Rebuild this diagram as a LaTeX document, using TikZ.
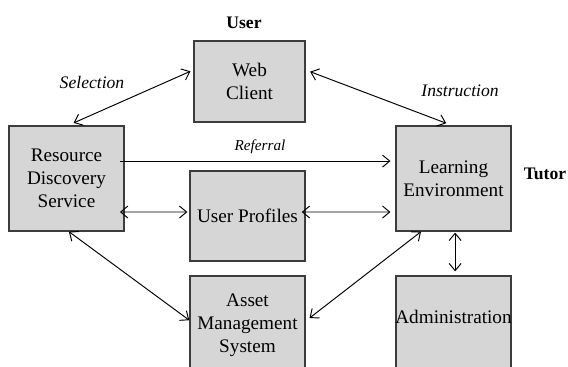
\documentclass[tikz,border=0pt]{standalone}
\usepackage{fontspec}
\setmainfont{Liberation Serif}
\usetikzlibrary{arrows.meta,positioning}
\definecolor{boxfill}{HTML}{D6D6D6}
\definecolor{boxline}{HTML}{3C3C3C}
\tikzset{
  sysbox/.style={draw=boxline, fill=boxfill, line width=0.8pt, align=center,
    inner sep=1pt, minimum width=72pt, font=\fontsize{12}{14.4}\selectfont},
  rolelbl/.style={font=\fontsize{11}{13}\selectfont\bfseries},
  flowlbl/.style={font=\fontsize{11}{13}\selectfont\itshape},
  arr/.style={-{Straight Barb[length=4.5pt,width=7.5pt]}, line width=0.6pt},
  dblarr/.style={{Straight Barb[length=4.5pt,width=7.5pt]}-{Straight Barb[length=4.5pt,width=7.5pt]}, line width=0.6pt}
}
\begin{document}
\begin{tikzpicture}[x=0.625pt, y=-0.625pt]
    \clip (0,0) rectangle (568,366);
    \node[sysbox, minimum width=69.4pt, minimum height=50.6pt] (web) at (249.5,81.5) {Web\\Client};
    \node[sysbox, minimum height=65.6pt] (rds) at (66.5,178.5) {Resource\\Discovery\\Service};
    \node[sysbox, minimum height=56.25pt] (prof) at (247.5,216) {User Profiles};
    \node[sysbox, minimum height=61.25pt] (asset) at (247.5,325) {Asset\\Management\\System};
    \node[sysbox, minimum height=65.6pt] (learn) at (453.5,178.5) {Learning\\Environment};
    \node[sysbox, minimum height=65pt,
      label={[name=admintext, yshift=6.9pt, font=\fontsize{12}{14.4}\selectfont]center:Administration}] (admin) at (453.5,328) {};
    \node[rolelbl] (user) at (244,23) {User};
    \node[rolelbl] (tutor) at (545,174) {Tutor};
    \node[flowlbl] (sel) at (92,82) {Selection};
    \node[flowlbl] (instr) at (460,91) {Instruction};
    \draw[dblarr, shorten <=3.8pt, shorten >=2pt] ([xshift=1pt]rds.north) -- ([yshift=7.2pt]web.west);
    \draw[dblarr, shorten <=3pt, shorten >=3.8pt] ([yshift=7.2pt]web.east) -- ([xshift=-1pt]learn.north);
    \draw[arr, shorten <=-3pt, shorten >=3pt] ([yshift=10.9pt]rds.east) -- node[above=1pt, font=\fontsize{9.5}{11}\selectfont\itshape] (ref) {Referral} ([yshift=10.9pt]learn.west);
    \draw[dblarr, shorten <=-3pt, shorten >=1.2pt] ([yshift=-20.94pt]rds.east) -- ([yshift=2.5pt]prof.west);
    \draw[dblarr, shorten <=-2.5pt, shorten >=3pt] ([yshift=2.5pt]prof.east) -- ([yshift=-20.94pt]learn.west);
    \draw[dblarr] ([xshift=1.5pt]rds.south) -- ([yshift=3pt]asset.west);
    \draw[dblarr, shorten <=3pt] ([yshift=2.5pt]asset.east) -- ([xshift=-20.3pt]learn.south);
    \draw[dblarr, shorten <=0.6pt, shorten >=2.5pt] ([xshift=1pt]learn.south) -- ([xshift=1pt]admin.north);
  \end{tikzpicture}
\end{document}
